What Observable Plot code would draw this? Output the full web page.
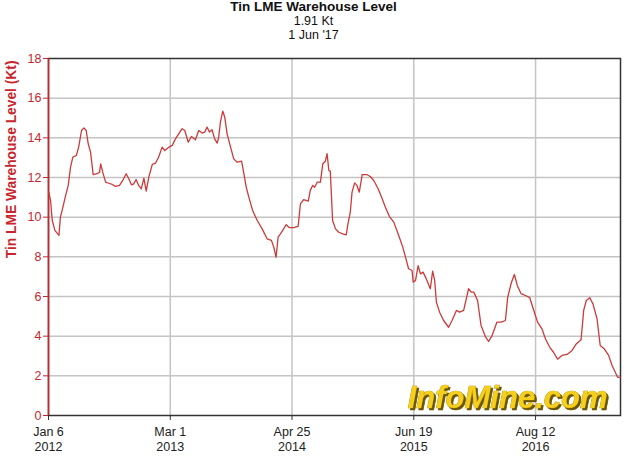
<!DOCTYPE html>
<html><head><meta charset="utf-8">
<script src="https://cdn.jsdelivr.net/npm/d3@7"></script>
<script src="https://cdn.jsdelivr.net/npm/@observablehq/plot@0.6"></script>
<style>
body{margin:0;background:#fff;font-family:"Liberation Sans",Arial,sans-serif;}
#wrap{width:627px;height:456px;position:relative;overflow:hidden;}
#title{height:45px;text-align:center;font-size:12.5px;line-height:14px;color:#111;padding-top:0px;box-sizing:border-box;}
#title .t{font-weight:bold;font-size:13.5px;}
#chart svg{display:block;}
</style></head><body>
<div id="wrap">
  <div id="title"><div class="t">Tin LME Warehouse Level</div><div>1.91 Kt</div><div>1 Jun '17</div></div>
  <div id="chart"></div>
</div>
<script>
// Data: days since first observation (2012-01-06) and warehouse level (kt)
const startDate = "2012-01-06";
const endDate = "2017-06-01";
const dayOffset = [
  1,7,13,22,36,41,47,59,68,76,84,96,104,114,122,130,137,145,154,168,176,180,187,197,208,220,231,245,256,268,277,286,294,302,311,320,329,337,346,358,369,380,392,401,
  415,427,438,449,461,470,482,493,507,518,530,539,547,555,564,573,582,587,593,601,608,616,628,639,651,666,673,682,691,704,720,737,754,769,777,785,792,800,811,820,831,
  846,861,869,880,896,903,911,918,927,938,946,955,961,967,972,980,990,1001,1015,1027,1033,1041,1047,1056,1064,1072,1082,1099,1110,1122,1137,1151,1162,1176,1191,1208,1222,1233,1242,1254,
  1258,1266,1275,1283,1292,1303,1317,1325,1332,1338,1349,1363,1380,1392,1407,1418,1432,1441,1449,1458,1467,1480,1492,1507,1518,1530,1547,1562,1576,
  1584,1597,1607,1617,1630,1645,1660,1673,1687,1702,1714,1729,1742,1756,1771,1789,1806,1821,1837,1846,1855,1867,1878,1892,1903,1917,1932,1944,1955,1963,1973
];
const tinKt = [
  11.26,10.84,9.83,9.33,9.08,10.0,10.34,11.09,11.6,12.52,13.03,13.11,13.53,14.37,14.5,14.37,13.7,13.28,12.15,12.19,12.27,12.69,12.27,11.77,11.71,11.65,11.55,11.6,11.85,12.19,11.94,11.63,11.68,11.9,11.6,11.43,11.97,11.31,12.02,12.66,12.72,13.03,13.53,13.36,
  13.53,13.62,13.95,14.2,14.46,14.37,13.78,14.07,13.9,14.37,14.24,14.29,14.54,14.29,14.41,13.95,13.73,14.03,14.79,15.35,15.04,14.2,13.53,12.94,12.77,12.82,12.27,11.51,11.01,10.34,9.83,9.41,8.91,8.83,8.49,7.98,8.99,9.16,9.41,9.62,9.47,
  9.47,9.53,10.67,10.88,10.81,11.35,11.6,11.51,11.77,11.77,12.69,12.82,13.2,12.35,12.32,9.83,9.41,9.24,9.16,9.11,9.67,10.25,11.26,11.73,11.6,11.26,12.15,12.14,12.05,11.85,11.43,10.93,10.5,10.03,9.75,9.08,8.49,7.9,7.4,7.31,
  6.72,6.81,7.56,7.14,7.23,6.89,6.39,7.28,6.81,5.71,5.21,4.79,4.45,4.79,5.3,5.21,5.3,5.88,6.39,6.22,6.22,5.8,4.54,3.98,3.73,4.03,4.71,4.71,4.79,
  5.97,6.72,7.11,6.56,6.14,6.05,5.94,5.33,4.71,4.37,3.87,3.44,3.19,2.84,3.03,3.08,3.28,3.62,3.82,5.3,5.8,5.94,5.63,4.88,3.53,3.36,3.03,2.52,2.18,1.93,1.91
];
const tickDates = ["2012-01-06","2013-03-01","2014-04-25","2015-06-19","2016-08-12"];
const tickLabels = ["Jan 6\n2012","Mar 1\n2013","Apr 25\n2014","Jun 19\n2015","Aug 12\n2016"];
const yTicks = [0,2,4,6,8,10,12,14,16,18];
const yLabel = "Tin LME Warehouse Level (Kt)";
const watermark = "InfoMine.com";

const t0 = new Date(startDate + "T00:00:00Z");
const data = dayOffset.map((d, i) => ({date: d3.utcDay.offset(t0, d), value: tinKt[i]}));
const xt = tickDates.map(d => new Date(d + "T00:00:00Z"));
const red = "#c8262c";

const chart = Plot.plot({
  width: 627, height: 411,
  marginTop: 13, marginBottom: 41, marginLeft: 48, marginRight: 7,
  style: {fontFamily: "'Liberation Sans', Arial, sans-serif", fontSize: "12.5px", background: "#fff", overflow: "visible"},
  x: {type: "utc", domain: [t0, new Date(endDate + "T00:00:00Z")]},
  y: {domain: [0, 18]},
  marks: [
    Plot.gridY(yTicks.filter(v => v > 0 && v < 18), {stroke: "#c4c4c4", strokeOpacity: 1, strokeWidth: 1.5}),
    Plot.gridX(xt.slice(1), {stroke: "#c4c4c4", strokeOpacity: 1, strokeWidth: 1.5}),
    Plot.frame({stroke: "#333", strokeWidth: 1.5}),
    Plot.axisY(yTicks, {tickSize: 5, tickPadding: 2, color: red, stroke: red, fill: red, label: null, fontSize: 12.5}),
    Plot.axisX(xt, {tickSize: 5, tickPadding: 5, stroke: "#333", fill: "#222", label: null, lineHeight: 1.2, tickFormat: (d, i) => tickLabels[i], fontSize: 12.5}),
    Plot.ruleX([t0], {stroke: red, strokeWidth: 1.5}),
    Plot.lineY(data, {x: "date", y: "value", stroke: "#cc3a3a", strokeWidth: 1.3}),
    Plot.text([yLabel], {text: d => d, frameAnchor: "top-left", rotate: -90, textAnchor: "end", lineAnchor: "middle", dx: -37, dy: 2, fill: red, fontWeight: "bold", fontSize: 13.8}),
    Plot.text([watermark], {text: d => d, frameAnchor: "bottom-right", textAnchor: "end", lineAnchor: "bottom", dx: -13, dy: -8, fill: "#f5cf1a", stroke: "#a88800", strokeWidth: 0.7, fontWeight: "bold", fontStyle: "italic", fontSize: 31, className: "wm"})
  ]
});
chart.querySelectorAll("text").forEach(t => {
  if (t.textContent === watermark) t.style.filter = "drop-shadow(2px 2px 0px #6b5500)";
});
document.getElementById("chart").appendChild(chart);
</script>
</body></html>
